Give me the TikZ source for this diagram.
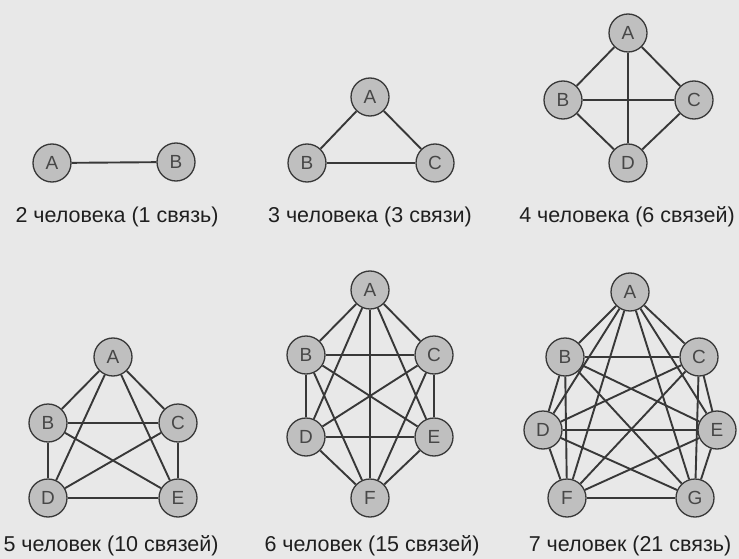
\documentclass[tikz,border=0pt]{standalone}
\usepackage{fontspec}
\setmainfont{Liberation Sans}
\begin{document}
\begin{tikzpicture}[x=1pt,y=-1pt,
  pers/.style={circle,draw=black!78,line width=1.3pt,fill=black!25,minimum size=38pt,inner sep=0pt,font=\fontsize{19}{19}\selectfont,text=black!72},
  link/.style={draw=black!78,line width=1.9pt},
  captext/.style={font=\fontsize{21.5}{21.5}\selectfont,text=black!88,anchor=center}]
\fill[black!9] (0,0) rectangle (739,559);
\useasboundingbox (0,0) rectangle (739,559);
% K2
\node[pers] (k2A) at (52,163) {A};
\node[pers] (k2B) at (176,162) {B};
\draw[link] (k2A) -- (k2B);
\node[captext] (c2) at (117,217) {2 человека (1 связь)};
% K3
\node[pers] (k3A) at (370,97) {A};
\node[pers] (k3B) at (307,163) {B};
\node[pers] (k3C) at (435,163) {C};
\foreach \a/\b in {A/B,A/C,B/C} \draw[link] (k3\a) -- (k3\b);
\node[captext] (c3) at (370,217) {3 человека (3 связи)};
% K4
\node[pers] (k4A) at (628,33) {A};
\node[pers] (k4B) at (563,100) {B};
\node[pers] (k4C) at (694,100) {C};
\node[pers] (k4D) at (628,163) {D};
\foreach \a/\b in {A/B,A/C,A/D,B/C,B/D,C/D} \draw[link] (k4\a) -- (k4\b);
\node[captext] (c4) at (627,217) {4 человека (6 связей)};
% K5
\node[pers] (k5A) at (113,357) {A};
\node[pers] (k5B) at (48,423) {B};
\node[pers] (k5C) at (178,423) {C};
\node[pers] (k5D) at (48,498) {D};
\node[pers] (k5E) at (178,498) {E};
\foreach \a/\b in {A/B,A/C,A/D,A/E,B/C,B/D,B/E,C/D,C/E,D/E} \draw[link] (k5\a) -- (k5\b);
\node[captext] (c5) at (111,546) {5 человек (10 связей)};
% K6
\node[pers] (k6A) at (370,290) {A};
\node[pers] (k6B) at (306,355) {B};
\node[pers] (k6C) at (434,355) {C};
\node[pers] (k6D) at (306,437) {D};
\node[pers] (k6E) at (434,437) {E};
\node[pers] (k6F) at (370,498) {F};
\foreach \a/\b in {A/B,A/C,A/D,A/E,A/F,B/C,B/D,B/E,B/F,C/D,C/E,C/F,D/E,D/F,E/F} \draw[link] (k6\a) -- (k6\b);
\node[captext] (c6) at (372,546) {6 человек (15 связей)};
% K7
\node[pers] (k7A) at (630,292) {A};
\node[pers] (k7B) at (565,357) {B};
\node[pers] (k7C) at (699,357) {C};
\node[pers] (k7D) at (543,430) {D};
\node[pers] (k7E) at (717,430) {E};
\node[pers] (k7F) at (567,498) {F};
\node[pers] (k7G) at (695,498) {G};
\foreach \a/\b in {A/B,A/C,A/D,A/E,A/F,A/G,B/C,B/D,B/E,B/F,B/G,C/D,C/E,C/F,C/G,D/E,D/F,D/G,E/F,E/G,F/G} \draw[link] (k7\a) -- (k7\b);
\node[captext] (c7) at (630,546) {7 человек (21 связь)};
\end{tikzpicture}
\end{document}
